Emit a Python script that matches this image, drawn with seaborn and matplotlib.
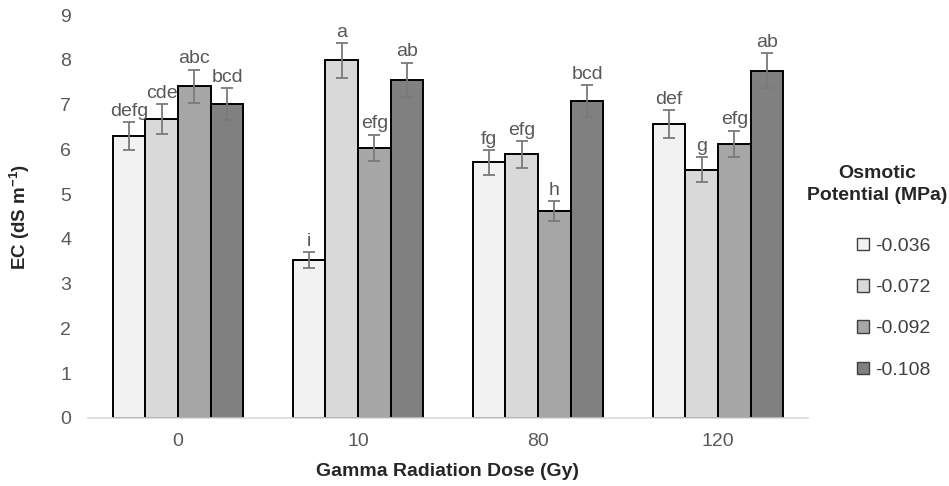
# EC bar chart: gamma dose x osmotic potential
import pandas as pd
import matplotlib
matplotlib.use('Agg')
import matplotlib.pyplot as plt
import seaborn as sns
from matplotlib.patches import Patch

# data
doses = ['0', '10', '80', '120']
potentials = ['-0.036', '-0.072', '-0.092', '-0.108']
ec_036 = [6.30, 3.52, 5.71, 6.56]
ec_072 = [6.68, 7.99, 5.89, 5.55]
ec_092 = [7.41, 6.03, 4.63, 6.12]
ec_108 = [7.01, 7.55, 7.08, 7.76]
se_036 = [0.31, 0.18, 0.28, 0.31]
se_072 = [0.33, 0.39, 0.30, 0.28]
se_092 = [0.37, 0.30, 0.22, 0.30]
se_108 = [0.36, 0.39, 0.36, 0.39]
let_036 = ['defg', 'i', 'fg', 'def']
let_072 = ['cde', 'a', 'efg', 'g']
let_092 = ['abc', 'efg', 'h', 'efg']
let_108 = ['bcd', 'ab', 'bcd', 'ab']

colors = ['#f2f2f2', '#d9d9d9', '#a6a6a6', '#808080']

vals = [ec_036, ec_072, ec_092, ec_108]
errs = [se_036, se_072, se_092, se_108]
lets = [let_036, let_072, let_092, let_108]

rows = []
for p, v in zip(potentials, vals):
    for d, y in zip(doses, v):
        rows.append({'dose': d, 'pot': p, 'ec': y})
df = pd.DataFrame(rows)

sns.set_style('white')
plt.rcParams['font.family'] = ['Liberation Sans', 'DejaVu Sans']
plt.rcParams['mathtext.fontset'] = 'custom'
plt.rcParams['mathtext.rm'] = 'Liberation Sans:bold'
plt.rcParams['mathtext.default'] = 'rm'

fig = plt.figure(figsize=(9.49, 4.86), dpi=100)
ax = fig.add_axes([0.0927, 0.14, 0.7587, 0.829])

sns.barplot(data=df, x='dose', y='ec', hue='pot', order=doses, hue_order=potentials,
            palette=colors, edgecolor='black', linewidth=1.4, width=0.727,
            errorbar=None, legend=False, ax=ax, saturation=1)

# error bars + letters
for cont, e, l in zip(ax.containers, errs, lets):
    for bar, ee, ll in zip(cont, e, l):
        x = bar.get_x() + bar.get_width() / 2
        h = bar.get_height()
        ax.errorbar(x, h, yerr=ee, fmt='none', ecolor='#7a7a7a', elinewidth=1.3,
                    capsize=4, capthick=1.3, zorder=5)
        ax.text(x, h + ee + 0.05, ll, ha='center', va='bottom', fontsize=14, color='#595959')

ax.set_ylim(0, 9)
ax.set_xlim(-0.5, 3.5)
ax.set_yticks(range(10))
ax.tick_params(axis='both', length=0, labelsize=14, labelcolor='#595959')
ax.tick_params(axis='y', pad=12)
ax.tick_params(axis='x', pad=11)
for s in ['top', 'right', 'left']:
    ax.spines[s].set_visible(False)
ax.spines['bottom'].set_color('#d9d9d9')
ax.spines['bottom'].set_linewidth(1.2)

ax.set_xlabel('Gamma Radiation Dose (Gy)', fontsize=14, fontweight='bold', va='top')
ax.xaxis.set_label_coords(0.5, -0.112)
ax.set_ylabel(r'EC (dS m$^{-1}$)', fontsize=13.5, fontweight='bold')
ax.yaxis.set_label_coords(-0.078, 0.5)

# legend
fig.text(0.924, 0.62, 'Osmotic\nPotential (MPa)', ha='center', va='center',
         fontsize=14, fontweight='bold', linespacing=1.35)
handles = [Patch(facecolor=c, edgecolor='#404040', linewidth=1) for c in colors]
fig.legend(handles, potentials, loc='upper left', bbox_to_anchor=(0.893, 0.53),
           frameon=False, fontsize=14, handlelength=0.6, handleheight=0.6,
           handletextpad=0.3, labelspacing=1.24, borderpad=0, labelcolor='#404040')

plt.savefig('out.png', dpi=100)
